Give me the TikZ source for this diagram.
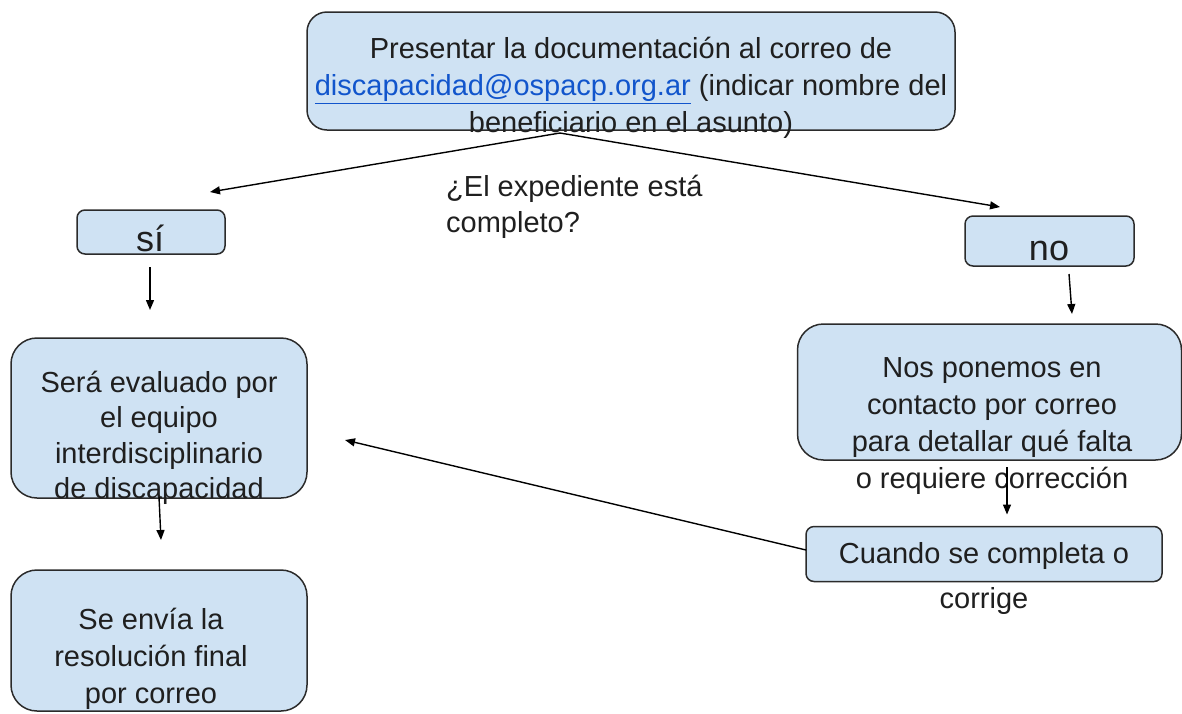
\documentclass[tikz,border=0pt]{standalone}
\usepackage{fontspec}
\setmainfont{Liberation Sans}
\usetikzlibrary{calc,arrows.meta}
\definecolor{boxfill}{HTML}{CFE2F3}
\definecolor{boxline}{HTML}{2B2B2B}
\definecolor{linkblue}{HTML}{1155CC}
\definecolor{txt}{HTML}{1F1F1F}
\tikzset{
  flowbox/.style={draw=boxline, fill=boxfill, line width=1.5pt, inner sep=0pt, outer sep=0pt},
  bodytext/.style={text=txt, font=\fontsize{29}{37}\selectfont, align=center, inner sep=0pt},
  bigtext/.style={text=txt, font=\fontsize{36}{40}\selectfont, inner sep=0pt},
  arr/.style={line width=1.4pt, draw=black, -{Triangle[length=10pt,width=8pt]}}
}
\begin{document}
\begin{tikzpicture}[x=1pt,y=-1pt]
\useasboundingbox (0,0) rectangle (1182,713);
% boxes
\node[flowbox, rounded corners=20pt, minimum width=648pt, minimum height=118pt] (top) at (631,71) {};
\node[flowbox, rounded corners=8pt, minimum width=148pt, minimum height=44pt] (si) at (151,232) {};
\node[flowbox, rounded corners=8pt, minimum width=169pt, minimum height=50pt] (no) at (1049.5,241) {};
\node[flowbox, rounded corners=26pt, minimum width=296pt, minimum height=160pt] (eval) at (159,418) {};
\node[flowbox, rounded corners=26pt, minimum width=384pt, minimum height=136pt] (contact) at (989.5,392) {};
\node[flowbox, rounded corners=8pt, minimum width=356pt, minimum height=55pt] (cuando) at (984,554) {};
\node[flowbox, rounded corners=26pt, minimum width=296pt, minimum height=141pt] (final) at (159,640.5) {};
% texts
\node[bodytext] (toptext) at (631,88) {Presentar la documentación al correo de\\
\textcolor{linkblue}{\underline{discapacidad@ospacp.org.ar}} (indicar nombre del\\
beneficiario en el asunto)};
\node[bigtext, anchor=base] (sitext) at (150,251) {sí};
\node[bigtext, anchor=base] (notext) at (1049,260) {no};
\node[bodytext, font=\fontsize{29}{36}\selectfont, align=left, anchor=north west] (question) at (446,175) {¿El expediente está\\completo?};
\node[bodytext, font=\fontsize{29}{35.5}\selectfont] (evaltext) at (159,438) {Será evaluado por\\el equipo\\interdisciplinario\\de discapacidad};
\node[bodytext] (contacttext) at (992,426) {Nos ponemos en\\contacto por correo\\para detallar qué falta\\o requiere corrección};
\node[bodytext, font=\fontsize{29}{45}\selectfont] (cuandotext) at (984,578) {Cuando se completa o\\corrige};
\node[bodytext] (finaltext) at (151,659) {Se envía la\\resolución final\\por correo};
% connectors
\draw[arr] ($(top.south)+(-71,3)$) -- ($(si.north)+(59,-18)$);
\draw[arr] ($(top.south)+(-71,3)$) -- ($(no.north)+(-49.5,-9)$);
\draw[arr] ($(si.south)+(-1,13)$) -- ($(eval.north)+(-9,-28)$);
\draw[arr] ($(no.south)+(19.5,8)$) -- ($(contact.north)+(82.5,-10)$);
\draw[arr] ($(eval.south)+(0,-1)$) -- ($(final.north)+(2,-30)$);
\draw[arr] ($(contact.south)+(17.5,7)$) -- ($(cuando.north)+(23,-12)$);
\draw[arr] ($(cuando.west)+(0,-4)$) -- ($(eval.east)+(38,22)$);
\end{tikzpicture}
\end{document}
